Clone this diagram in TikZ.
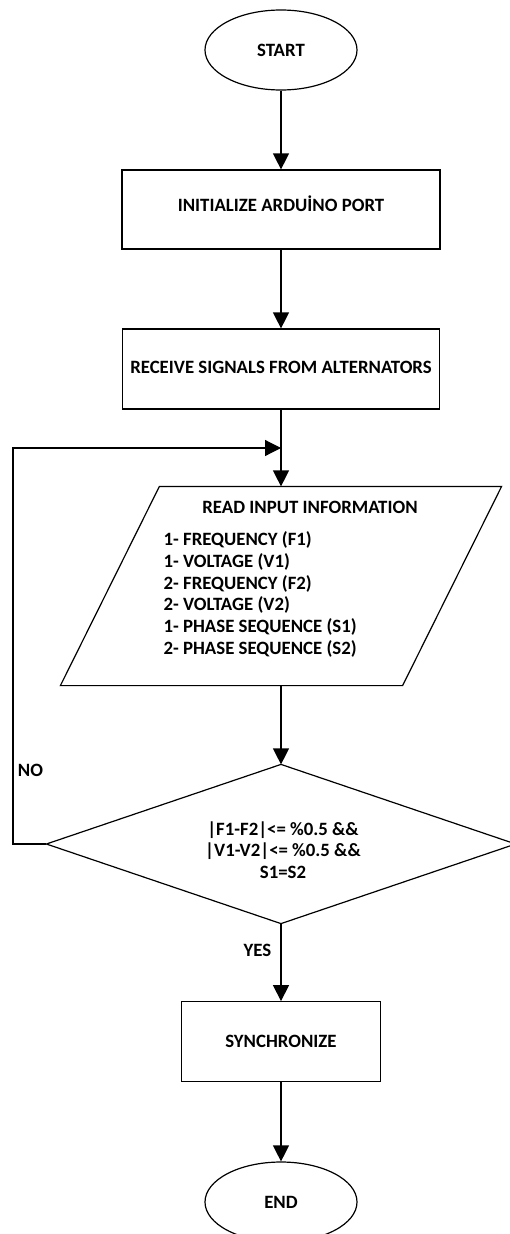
\documentclass[tikz,border=0pt]{standalone}
\usepackage{fontspec}
\setmainfont{Carlito}
\usetikzlibrary{arrows.meta,calc,shapes.geometric}
\begin{document}
\begin{tikzpicture}[x=1pt,y=-1pt,
  font=\bfseries\fontsize{18.8pt}{21.8pt}\selectfont,
  line width=1.2pt,
  flowbox/.style={draw, rectangle, inner sep=0pt},
  term/.style={draw, ellipse, minimum width=152pt, minimum height=80pt, inner sep=0pt},
  flow/.style={-{Triangle[length=16pt,width=16pt]}},
  plain/.style={inner sep=0pt}]
\useasboundingbox (0,0) rectangle (510,1234);
% terminals and steps
\node[term] (start) at (281,50) {START};
\node[flowbox, minimum width=318pt, minimum height=79pt] (init) at (281,209.5) {\raisebox{6pt}[\height][\depth]{INITIALIZE ARDUİNO PORT}};
\node[flowbox, minimum width=317pt, minimum height=80pt] (recv) at (281,369) {\raisebox{2pt}[\height][\depth]{RECEIVE SIGNALS FROM ALTERNATORS}};
\coordinate (join) at (281,448);
% input parallelogram
\node[plain, minimum width=341pt, minimum height=198pt] (read) at (281,586) {};
\draw ([xshift=49.5pt]read.north west) -- ([xshift=49.5pt]read.north east)
  -- ([xshift=-49.5pt]read.south east) -- ([xshift=-49.5pt]read.south west) -- cycle;
\node[plain] (readt) at (310,507) {READ INPUT INFORMATION};
\node[plain, anchor=north west, align=left] (readl) at (163,531) {1- FREQUENCY (F1)\\1- VOLTAGE (V1)\\2- FREQUENCY (F2)\\2- VOLTAGE (V2)\\1- PHASE SEQUENCE (S1)\\2- PHASE SEQUENCE (S2)};
% decision
\node[plain, minimum width=468pt, minimum height=158pt] (check) at (281,844) {};
\draw (check.north) -- (check.east) -- (check.south) -- (check.west) -- cycle;
\node[plain, align=center] (checkt) at (283,850) {|F1-F2|<= \%0.5 \&\&\\|V1-V2|<= \%0.5 \&\&\\S1=S2};
\coordinate (loopc) at (13,448);
% end part
\node[flowbox, minimum width=199pt, minimum height=80pt] (sync) at (281,1041.7) {SYNCHRONIZE};
\node[term] (stop) at (281,1202) {END};
% labels
\node[plain] (nolab) at (30.5,770) {NO};
\node[plain] (yeslab) at (257.5,950) {YES};
% connectors
\draw[flow] (start.south) -- (init.north);
\draw[flow] (init.south) -- (recv.north);
\draw[flow] (recv.south) -- (read.north);
\draw[flow] (check.west) -| (loopc) -- (join);
\draw[flow] (read.south) -- (check.north);
\draw[flow] (check.south) -- (sync.north);
\draw[flow] (sync.south) -- (stop.north);
\end{tikzpicture}
\end{document}
